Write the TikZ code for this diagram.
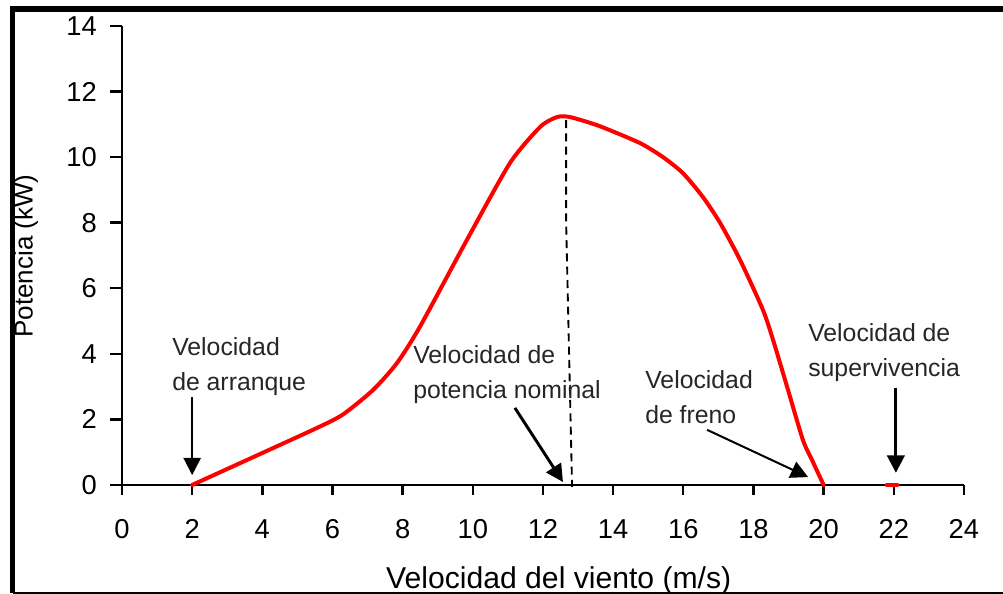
\documentclass[tikz,border=0pt]{standalone}
\usepackage{fontspec}
\setmainfont{Liberation Sans}
\usetikzlibrary{arrows.meta}

\begin{document}
\begin{tikzpicture}
  [x=26.31pt,y=24.59pt,
  lab/.style={inner sep=0pt,anchor=north west,align=left,text=black!85,
    font=\fontsize{18.6}{26.25}\selectfont},
  num/.style={inner sep=0pt,font=\fontsize{20.5}{24}\selectfont},
  tit/.style={inner sep=0pt,font=\fontsize{22.6}{26}\selectfont},
  axis/.style={line width=1.8pt},
  curve/.style={red,line width=3pt,line join=round,line cap=round},
  post/.style={-{Triangle[width=13pt,length=13pt]},line width=1.5pt},
  tpost/.style={post,line width=2.2pt}]

  \useasboundingbox (-3.478,-3.324) rectangle (25.114,14.791);

  % frame
  \draw[line width=4.2pt] (-3.12,-3.294) -- (-3.12,14.517) -- (25.114,14.517);
  \draw[line width=1.8pt] (-3.12,-3.294) -- (25.114,-3.294);

  % axes
  \draw[axis] (-0.342,0) -- (24,0);
  \draw[axis] (0,0) -- (0,14);
  \foreach \x in {0,2,...,24}{
    \draw[axis] (\x,0) -- (\x,-0.3);
    \node[num] (xl\x) at (\x,-1.34) {\x};
  }
  \foreach \y in {2,4,...,14}{
    \draw[axis] (0,\y) -- (-0.342,\y);
  }
  \foreach \y in {0,2,...,14}
    \node[num,anchor=east] (yl\y) at (-0.713,\y) {\y};

  \node[tit,rotate=90,font=\fontsize{19.5}{24}\selectfont] (ytit) at (-2.737,6.984) {Potencia (kW)};
  \node[tit,anchor=base] (xtit) at (12.45,-3.17) {Velocidad del viento (m/s)};

  % power curve
  \draw[curve] plot[smooth,tension=0.4] coordinates {
    (2,0) (3.56,0.76) (5.56,1.74) (6.3,2.15) (7.16,2.9) (7.84,3.72)
    (8.49,4.82) (9.83,7.47) (11.06,9.82) (11.92,10.92)
    (12.4,11.22) (12.77,11.22) (13.6,10.95) (14.76,10.43) (15.42,10.0)
    (15.99,9.51) (16.56,8.78) (17.05,7.99) (17.62,6.86) (18.27,5.34)
    (18.56,4.42) (18.96,2.99) (19.41,1.37) (19.67,0.76) (20,0)};
  \draw[curve] (21.8,0) -- (22.1,0);

%  nominal power
  \draw[line width=1.4pt,dash pattern=on 6pt off 4pt]
    (12.66,11.13) -- (12.66,8.02) -- (12.83,-0.06);

  \node[lab] (arr) at (1.425,4.514) {Velocidad\\de arranque};
  \node[lab] (nom) at (8.295,4.27) {Velocidad de\\potencia nominal};
  \node[lab] (fre) at (14.909,3.507) {Velocidad\\de freno};
  \node[lab] (sup) at (19.555,4.941) {Velocidad de\\supervivencia};

  \coordinate (arr-a) at (2,2.68);
  \coordinate (arr-b) at (2,0.3);
  \coordinate (nom-a) at (11.2,2.35);
  \coordinate (nom-b) at (12.57,0.09);
  \coordinate (fre-a) at (16.68,1.68);
  \coordinate (fre-b) at (19.56,0.24);
  \coordinate (sup-a) at (22.06,2.96);
  \coordinate (sup-b) at (22.06,0.37);

  \draw[post] (arr-a) -- (arr-b);
  \draw[tpost] (nom-a) -- (nom-b);
  \draw[post] (fre-a) -- (fre-b);
  \draw[tpost] (sup-a) -- (sup-b);
\end{tikzpicture}
\end{document}
